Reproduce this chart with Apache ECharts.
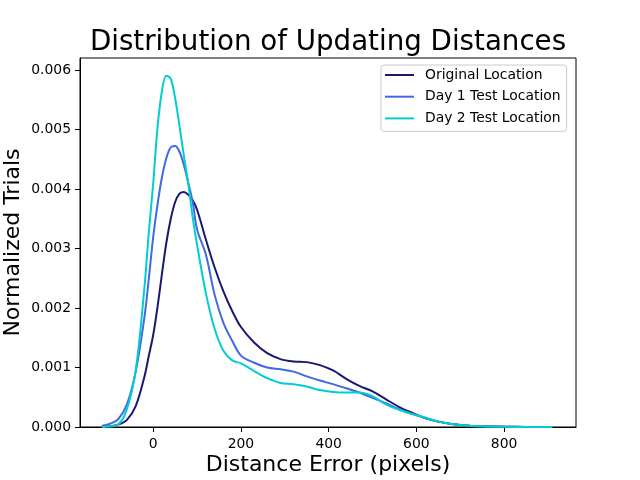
<!DOCTYPE html>
<html>
<head>
<meta charset="utf-8">
<script src="https://cdn.jsdelivr.net/npm/echarts@6/dist/echarts.min.js"></script>
<style>
  html, body { margin: 0; padding: 0; background: #fff; }
  #chart { width: 640px; height: 480px; }
</style>
</head>
<body>
<div id="chart"></div>
<script>
// distance error (pixels), shared by all three curves
var distances = [-117, -100, -80, -60, -40, -20, -10, 0, 10, 20, 30, 40, 50, 60, 70, 80, 90, 100,
  120, 140, 160, 180, 200, 230, 260, 290, 320, 350, 380, 410, 440, 470, 500, 530, 560, 590,
  620, 650, 680, 720, 760, 800, 850, 910];

// density estimates
var originalLocation = [0, 0.00001, 0.00004, 0.00012, 0.00035, 0.00085, 0.00120, 0.00155, 0.00203,
  0.00258, 0.00310, 0.00350, 0.00378, 0.00392, 0.00395, 0.00390, 0.00381, 0.00365,
  0.00315, 0.00268, 0.00228, 0.00195, 0.00168, 0.00142, 0.00124, 0.00114, 0.00110, 0.00109,
  0.00104, 0.00095, 0.00081, 0.00069, 0.00060, 0.00047, 0.00034, 0.00024,
  0.00015, 0.00009, 0.00005, 0.00002, 0.00001, 0.000005, 0.000002, 0];

var day1Location = [0.00002, 0.00005, 0.00013, 0.00038, 0.00093, 0.00185, 0.00250, 0.00320, 0.00375,
  0.00420, 0.00452, 0.00470, 0.00472, 0.00462, 0.00440, 0.00410, 0.00378, 0.00332,
  0.00290, 0.00222, 0.00175, 0.00145, 0.00120, 0.00108, 0.00100, 0.00097, 0.00093, 0.00085,
  0.00078, 0.00072, 0.00065, 0.00058, 0.00049, 0.00040, 0.00030, 0.00022,
  0.00015, 0.00009, 0.00005, 0.00002, 0.00001, 0.000005, 0.000002, 0];

var day2Location = [0, 0.00001, 0.00004, 0.00030, 0.00095, 0.00235, 0.00328, 0.00410, 0.00505,
  0.00565, 0.00590, 0.00585, 0.00552, 0.00505, 0.00455, 0.00408, 0.00352, 0.00306,
  0.00225, 0.00165, 0.00128, 0.00112, 0.00107, 0.00094, 0.00082, 0.00074, 0.00072, 0.00068,
  0.00062, 0.00059, 0.00058, 0.00058, 0.00052, 0.00038, 0.00029, 0.00022,
  0.00016, 0.00009, 0.00005, 0.00002, 0.00001, 0.000003, 0, 0];

var xTicks = [0, 200, 400, 600, 800];
var yTicks = [0, 0.001, 0.002, 0.003, 0.004, 0.005, 0.006];

function pairs(ys) {
  return distances.map(function (x, i) { return [x, ys[i]]; });
}

var font = 'DejaVu Sans';

function line(name, color, ys) {
  return {
    name: name,
    type: 'line',
    data: pairs(ys),
    smooth: 0.35,
    symbol: 'none',
    lineStyle: { color: color, width: 2 },
    itemStyle: { color: color }
  };
}

var chart = echarts.init(document.getElementById('chart'));
chart.setOption({
  animation: false,
  textStyle: { fontFamily: font },
  title: {
    text: 'Distribution of Updating Distances',
    left: 323,
    top: 24,
    textAlign: 'center',
    textStyle: { fontFamily: font, fontSize: 27.7, fontWeight: 'normal', color: '#000' }
  },
  legend: {
    orient: 'vertical',
    left: 381,
    top: 65,
    padding: [3, 6, 6, 3],
    itemWidth: 29,
    itemHeight: 14,
    itemGap: 7.7,
    backgroundColor: '#fff',
    borderColor: '#cccccc',
    borderWidth: 1,
    borderRadius: 3,
    itemStyle: { opacity: 0 },
    textStyle: { fontFamily: font, fontSize: 13.9, color: '#000', padding: [0, 0, 0, 6] },
    data: ['Original Location', 'Day 1 Test Location', 'Day 2 Test Location']
  },
  grid: {
    left: 80, top: 58, right: 64, bottom: 53,
    outerBoundsMode: 'none',
    containLabel: false,
    show: true, borderColor: '#000', borderWidth: 1, backgroundColor: 'transparent'
  },
  xAxis: {
    type: 'value',
    min: -167,
    max: 964,
    name: 'Distance Error (pixels)',
    nameLocation: 'middle',
    nameGap: 27,
    nameMoveOverlap: false,
    nameTextStyle: { fontFamily: font, fontSize: 22, color: '#000' },
    axisLine: { show: true, onZero: false, lineStyle: { color: '#000' } },
    axisTick: { show: true, customValues: xTicks, length: 5, lineStyle: { color: '#000' } },
    axisLabel: { customValues: xTicks, margin: 10, fontSize: 13.9, color: '#000' },
    splitLine: { show: false }
  },
  yAxis: {
    type: 'value',
    min: 0,
    max: 0.0062,
    name: 'Normalized Trials',
    nameLocation: 'middle',
    nameGap: 56,
    nameMoveOverlap: false,
    nameTextStyle: { fontFamily: font, fontSize: 22, color: '#000' },
    axisLine: { show: true, onZero: false, lineStyle: { color: '#000' } },
    axisTick: { show: true, customValues: yTicks, length: 5, lineStyle: { color: '#000' } },
    axisLabel: {
      customValues: yTicks, margin: 9, fontSize: 13.9, color: '#000',
      formatter: function (v) { return v.toFixed(3); }
    },
    splitLine: { show: false }
  },
  series: [
    line('Original Location', '#191970', originalLocation),
    line('Day 1 Test Location', '#4169e1', day1Location),
    line('Day 2 Test Location', '#00ced1', day2Location)
  ]
});
</script>
</body>
</html>
